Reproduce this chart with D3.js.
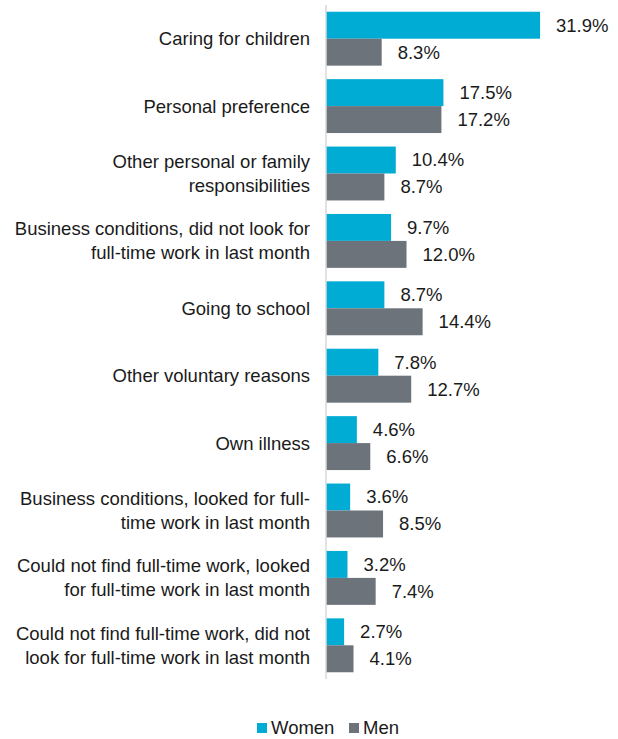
<html>
<head>
<script src="https://d3js.org/d3.v7.min.js"></script>
<style>
  body { margin: 0; background: #fff; }
  text { font-family: "Liberation Sans", Arial, sans-serif; fill: #1a1a1a; }
</style>
</head>
<body>
<div id="chart"></div>
<script>
var categories = [
  ["Caring for children"],
  ["Personal preference"],
  ["Other personal or family", "responsibilities"],
  ["Business conditions, did not look for", "full-time work in last month"],
  ["Going to school"],
  ["Other voluntary reasons"],
  ["Own illness"],
  ["Business conditions, looked for full-", "time work in last month"],
  ["Could not find full-time work, looked", "for full-time work in last month"],
  ["Could not find full-time work, did not", "look for full-time work in last month"]
];
var women = [31.9, 17.5, 10.4, 9.7, 8.7, 7.8, 4.6, 3.6, 3.2, 2.7];
var men = [8.3, 17.2, 8.7, 12.0, 14.4, 12.7, 6.6, 8.5, 7.4, 4.1];
var seriesNames = ["Women", "Men"];
var colors = ["#00acd4", "#6c737b"];

var W = 618, H = 739;
var fs = "18.5px";
var svg = d3.select("#chart").append("svg")
  .attr("width", W).attr("height", H);

var y = d3.scaleBand()
  .domain(d3.range(categories.length))
  .range([5, 679])
  .paddingInner(0.2)
  .paddingOuter(0.1);

var x = d3.scaleLinear().domain([0, 40]).range([326, 594.4]);

var sub = d3.scaleBand().domain([0, 1]).range([0, y.bandwidth()]);

var rows = svg.selectAll(".row")
  .data(categories)
  .enter().append("g")
  .attr("class", "row")
  .attr("transform", function(d, i) { return "translate(0," + y(i) + ")"; });

rows.each(function(d, i) {
  var g = d3.select(this);
  var vals = [women[i], men[i]];
  vals.forEach(function(v, s) {
    g.append("rect")
      .attr("x", x(0))
      .attr("y", sub(s))
      .attr("width", x(v) - x(0))
      .attr("height", sub.bandwidth())
      .attr("fill", colors[s]);
    g.append("text")
      .attr("x", x(v) + 16)
      .attr("y", sub(s) + sub.bandwidth() / 2)
      .attr("dy", "0.35em")
      .style("font-size", fs)
      .text(v.toFixed(1) + "%");
  });
  var lh = 24;
  var c = y.bandwidth() / 2 - (d.length - 1) * lh / 2;
  var t = g.append("text")
    .attr("text-anchor", "end")
    .style("font-size", fs);
  d.forEach(function(line, k) {
    t.append("tspan")
      .attr("x", 310)
      .attr("y", c + k * lh)
      .attr("dy", "0.35em")
      .text(line);
  });
});

// axis line
svg.append("line")
  .attr("x1", x(0)).attr("x2", x(0))
  .attr("y1", 5).attr("y2", 679)
  .attr("stroke", "#d9d9d9").attr("stroke-width", 1.5);

// legend
var legend = svg.append("g").attr("transform", "translate(0,728)");
var lx = [257, 349];
seriesNames.forEach(function(n, s) {
  legend.append("rect")
    .attr("x", lx[s]).attr("y", -5)
    .attr("width", 10).attr("height", 10)
    .attr("fill", colors[s]);
  legend.append("text")
    .attr("x", lx[s] + 14).attr("y", 0)
    .attr("dy", "0.35em")
    .style("font-size", fs)
    .text(n);
});
</script>
</body>
</html>
